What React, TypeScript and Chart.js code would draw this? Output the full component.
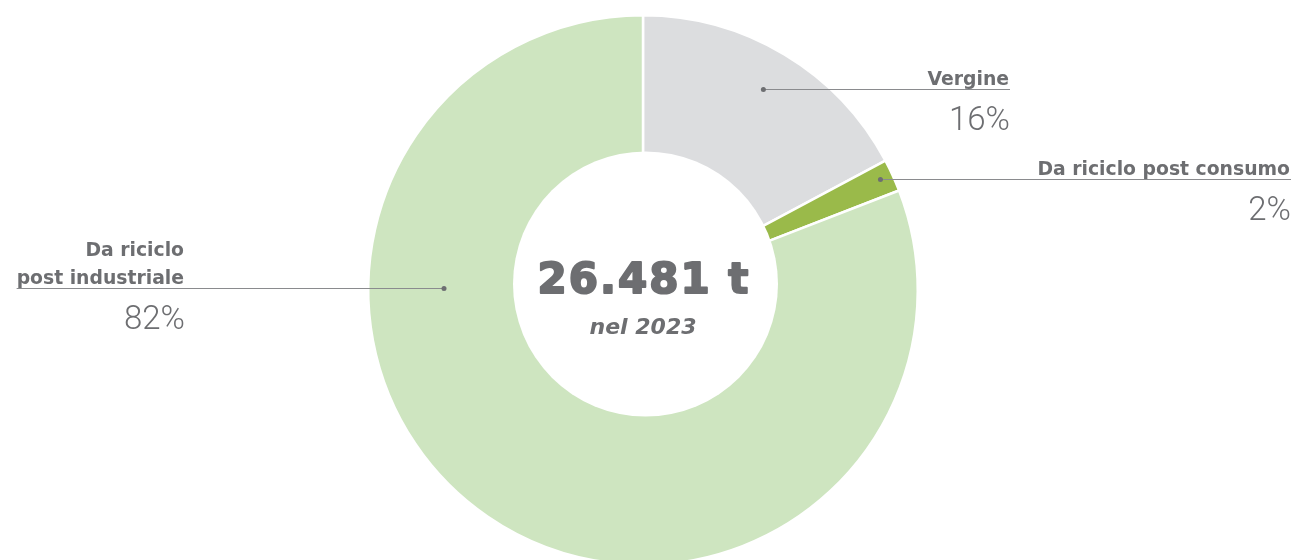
import React, { useEffect, useRef } from "react";
import { Chart, registerables } from "chart.js";

Chart.register(...registerables);

// ---- data ----
const categories = ["Vergine", "Da riciclo post consumo", "Da riciclo post industriale"];
const labelLines = [["Vergine"], ["Da riciclo post consumo"], ["Da riciclo", "post industriale"]];
const shares = [17.2, 1.9, 80.9];
const percentLabels = ["16%", "2%", "82%"];
const totalLabel = "26.481 t";
const yearLabel = "nel 2023";

// ---- styles ----
const sliceColors = ["#dcdddf", "#9aba4a", "#cee5c0"];
const textColor = "#6d6e71";
const lineColor = "#8a8b8e";
const calloutLayout = [
  { t: 0.5, r: 234, side: "right", edge: 1009 },
  { t: 0.45, r: 262, side: "right", edge: 1290 },
  { t: 0.693, r: 199, side: "left", edge: 184 },
];
const hole = { dx: 2.5, dy: -6, r: 132.5 };

const calloutPlugin = {
  id: "callouts",
  afterDatasetsDraw(chart: any) {
    const ctx: any = chart.ctx;
    const meta = chart.getDatasetMeta(0);
    const cx = meta.data[0].x;
    const cy = meta.data[0].y;
    ctx.save();
    // centre hole
    ctx.fillStyle = "#ffffff";
    ctx.beginPath();
    ctx.arc(cx + hole.dx, cy + hole.dy, hole.r, 0, Math.PI * 2);
    ctx.fill();

    meta.data.forEach((arc: any, i: number) => {
      const lay = calloutLayout[i];
      const a = arc.startAngle + lay.t * (arc.endAngle - arc.startAngle);
      const px = arc.x + lay.r * Math.cos(a);
      const py = Math.round(arc.y + lay.r * Math.sin(a)) + 0.5;
      ctx.font = "700 18.8px 'DejaVu Sans'";
      ctx.letterSpacing = "0px";
      const lines = labelLines[i];
      let maxW = 0;
      lines.forEach((l) => (maxW = Math.max(maxW, ctx.measureText(l).width)));
      // line
      ctx.strokeStyle = lineColor;
      ctx.lineWidth = 1;
      ctx.beginPath();
      if (lay.side === "right") {
        ctx.moveTo(px, py);
        ctx.lineTo(lay.edge + 1, py);
      } else {
        ctx.moveTo(lay.edge - maxW, py);
        ctx.lineTo(px, py);
      }
      ctx.stroke();
      // dot
      ctx.fillStyle = textColor;
      ctx.beginPath();
      ctx.arc(px, py, 2.5, 0, Math.PI * 2);
      ctx.fill();
      // label text
      ctx.fillStyle = textColor;
      ctx.textAlign = "right";
      ctx.textBaseline = "alphabetic";
      lines.forEach((l, j) => {
        const baseline = py - 5 - (lines.length - 1 - j) * 28;
        ctx.fillText(l, lay.edge, baseline);
      });
      ctx.font = "300 33px Roboto";
      ctx.fillText(percentLabels[i], lay.edge + 1, py + 40);
    });
    // centre text
    ctx.textAlign = "center";
    ctx.fillStyle = textColor;
    ctx.strokeStyle = textColor;
    ctx.lineJoin = "round";
    ctx.font = "700 42px 'DejaVu Sans'";
    ctx.letterSpacing = "2px";
    ctx.lineWidth = 2;
    ctx.fillText(totalLabel, cx + 1, cy + 3);
    ctx.strokeText(totalLabel, cx + 1, cy + 3);
    ctx.letterSpacing = "0px";
    ctx.font = "italic 700 22px 'DejaVu Sans'";
    ctx.fillText(yearLabel, cx, cy + 44);
    ctx.restore();
  },
};

export default function App() {
  const ref = useRef<HTMLCanvasElement | null>(null);
  useEffect(() => {
    if (!ref.current) return;
    const chart = new Chart(ref.current, {
      type: "doughnut",
      data: {
        labels: categories,
        datasets: [
          {
            data: shares,
            backgroundColor: sliceColors,
            borderColor: "#ffffff",
            borderWidth: 2.5,
            hoverOffset: 0,
          },
        ],
      },
      options: {
        responsive: false,
        animation: false,
        cutout: "44%",
        layout: { padding: { left: 0, right: 8, top: 14, bottom: 34 } },
        plugins: { legend: { display: false }, tooltip: { enabled: false } },
      },
      plugins: [calloutPlugin],
    });
    return () => chart.destroy();
  }, []);
  return (
    <div
      style={{
        position: "fixed",
        left: 0,
        top: 0,
        width: 1294,
        height: 560,
        overflow: "hidden",
        background: "#ffffff",
      }}
    >
      <canvas ref={ref} width={1294} height={600} style={{ display: "block" }} />
    </div>
  );
}
